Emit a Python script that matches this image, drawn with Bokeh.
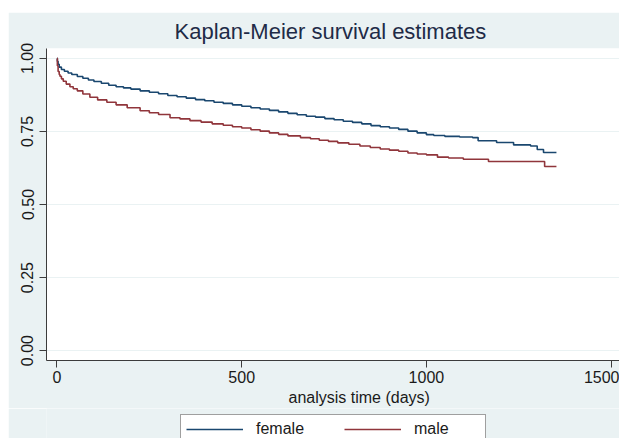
from bokeh.plotting import figure
from bokeh.layouts import column, row
from bokeh.models import (FixedTicker, PrintfTickFormatter, Legend, LegendItem, Range1d,
                          Title, Spacer)
from bokeh.embed import file_html
from bokeh.resources import INLINE

# ---- data ----
female_t = [0, 1, 3, 6, 12, 20, 30, 40, 55, 70, 85, 100, 120, 140, 160, 180, 200, 225, 250,
            275, 300, 325, 350, 375, 400, 425, 450, 475, 500, 525, 550, 575, 600, 625, 650,
            675, 700, 725, 750, 775, 800, 825, 850, 875, 900, 925, 950, 975, 1000, 1020, 1050,
            1090, 1125, 1140, 1190, 1236, 1282, 1300, 1317, 1352]
female_s = [1.0, 0.99, 0.98, 0.97, 0.962, 0.956, 0.950, 0.945, 0.938, 0.932, 0.926, 0.921,
            0.915, 0.908, 0.903, 0.899, 0.895, 0.889, 0.884, 0.879, 0.873, 0.869, 0.864, 0.859,
            0.855, 0.850, 0.846, 0.841, 0.836, 0.831, 0.827, 0.822, 0.817, 0.812, 0.807, 0.802,
            0.799, 0.794, 0.790, 0.785, 0.781, 0.776, 0.770, 0.766, 0.762, 0.757, 0.751, 0.745,
            0.739, 0.736, 0.733, 0.731, 0.729, 0.718, 0.712, 0.704, 0.700, 0.688, 0.678, 0.678]

male_t = [0, 1, 3, 6, 8, 12, 17, 25, 35, 44, 55, 70, 89, 110, 135, 160, 190, 225, 250, 275,
          306, 333, 360, 390, 420, 450, 475, 500, 525, 550, 575, 600, 625, 659, 686, 710, 735,
          760, 790, 820, 848, 875, 900, 925, 950, 975, 1000, 1030, 1060, 1100, 1168, 1320, 1352]
male_s = [1.0, 0.975, 0.955, 0.945, 0.939, 0.930, 0.922, 0.912, 0.903, 0.896, 0.889, 0.878,
          0.867, 0.858, 0.850, 0.841, 0.831, 0.821, 0.814, 0.808, 0.797, 0.793, 0.787, 0.782,
          0.776, 0.771, 0.766, 0.762, 0.756, 0.751, 0.745, 0.740, 0.735, 0.729, 0.725, 0.720,
          0.716, 0.711, 0.706, 0.700, 0.695, 0.690, 0.686, 0.682, 0.676, 0.673, 0.670, 0.662,
          0.659, 0.655, 0.647, 0.630, 0.630]

x_ticks = [0, 500, 1000, 1500]
y_ticks = [0.0, 0.25, 0.5, 0.75, 1.0]
series_names = ["female", "male"]
title_text = "Kaplan-Meier survival estimates"
xlabel_text = "analysis time (days)"

FONT = "Liberation Sans"
BG = "#EAF2F3"
C_F = "#1A476F"
C_M = "#90353B"
LW = 1.6

# ---------------- main plot ----------------
p = figure(width=611, height=396, output_backend="svg", toolbar_location=None,
           x_range=Range1d(-28.4, 1522.7), y_range=Range1d(-0.0339, 1.0339),
           min_border_left=38, min_border_right=0, min_border_top=33, min_border_bottom=48)
p.border_fill_color = BG
p.background_fill_color = "white"
p.outline_line_color = None

p.step(female_t, female_s, mode="after", line_color=C_F, line_width=LW)
p.step(male_t, male_s, mode="after", line_color=C_M, line_width=LW)

p.xaxis.ticker = FixedTicker(ticks=x_ticks)
p.yaxis.ticker = FixedTicker(ticks=y_ticks)
p.yaxis.formatter = PrintfTickFormatter(format="%.2f")
p.yaxis.major_label_orientation = "vertical"
for ax in (p.xaxis, p.yaxis):
    ax.axis_line_color = "#3c3c3c"
    ax.major_tick_line_color = "#3c3c3c"
    ax.major_tick_out = 7
    ax.major_tick_in = 0
    ax.minor_tick_line_color = None
    ax.major_label_text_font = FONT
    ax.major_label_text_font_size = "16px"
    ax.major_label_text_color = "#1a1a1a"
p.xaxis.major_label_standoff = 3
p.yaxis.major_label_standoff = 6

p.xgrid.grid_line_color = None
p.ygrid.grid_line_color = BG
p.ygrid.grid_line_width = 1.2

p.add_layout(Title(text=title_text, align="left", offset=128, standoff=9,
                   text_font=FONT, text_font_size="22px", text_font_style="normal",
                   text_color="#1e2b47"), "above")
p.add_layout(Title(text=xlabel_text, align="left", offset=242, standoff=2,
                   text_font=FONT, text_font_size="16px", text_font_style="normal",
                   text_color="#1a1a1a"), "below")

# ---------------- legend strip ----------------
p2 = figure(width=611, height=30, output_backend="svg", toolbar_location=None,
            x_range=Range1d(0, 1), y_range=Range1d(5, 6),
            x_axis_location=None, y_axis_location=None,
            min_border_left=0, min_border_right=0, min_border_top=0, min_border_bottom=0)
p2.border_fill_color = BG
p2.background_fill_color = BG
p2.outline_line_color = None
p2.grid.visible = False
lf = p2.step(female_t, female_s, mode="after", line_color=C_F, line_width=LW)
lm = p2.step(male_t, male_s, mode="after", line_color=C_M, line_width=LW)

legend = Legend(items=[LegendItem(label=series_names[0], renderers=[lf]),
                       LegendItem(label=series_names[1], renderers=[lm])],
                orientation="horizontal", location=(134, -6), margin=0, padding=5,
                glyph_width=57, glyph_height=18, label_height=18,
                label_standoff=13, label_width=66, spacing=22,
                label_text_font=FONT, label_text_font_size="16px", label_text_color="#1a1a1a",
                border_line_color="#404040", border_line_width=1, background_fill_color="white",
                background_fill_alpha=1.0)
p2.add_layout(legend, "center")

layout = column(Spacer(width=619, height=12),
                row(Spacer(width=8, height=426), column(p, p2)))

open("out.html", "w").write(file_html(layout, INLINE))
